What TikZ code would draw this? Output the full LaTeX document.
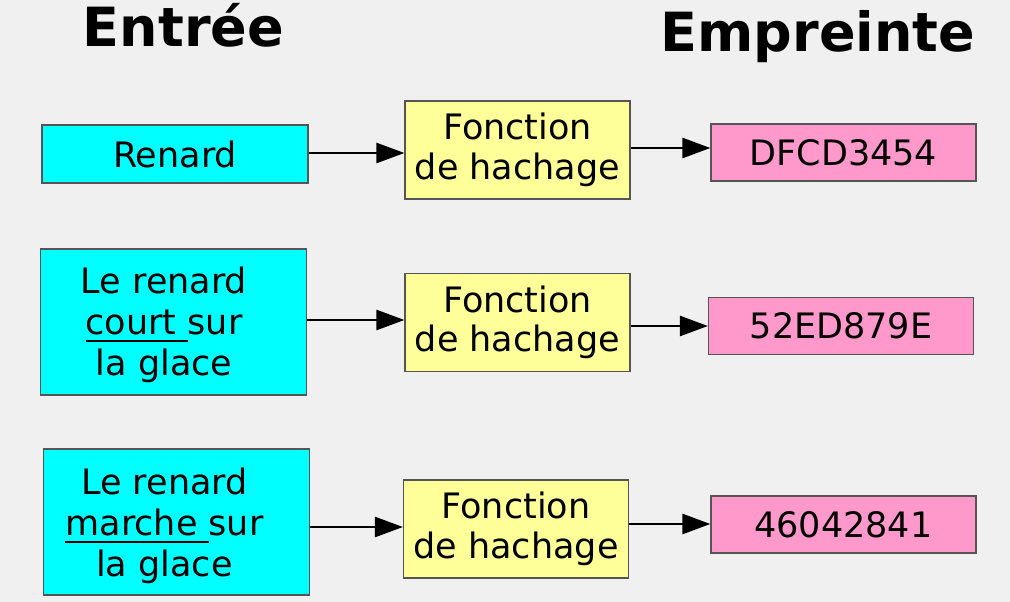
\documentclass[tikz,border=0pt]{standalone}
\usepackage{fontspec}
\setmainfont{DejaVu Sans}
\usetikzlibrary{arrows.meta}
\definecolor{bgc}{HTML}{F0F0F0}
\definecolor{cyanbox}{HTML}{00FFFF}
\definecolor{yellowbox}{HTML}{FFFF99}
\definecolor{pinkbox}{HTML}{FF99CC}
\definecolor{edgec}{HTML}{555555}
\newcommand\ulword[1]{\setbox0\hbox{#1}\rlap{\rule[-7pt]{\wd0}{1.8pt}}\box0}
\tikzset{
  box/.style={draw=edgec, line width=1.2pt, inner sep=0pt, font=\fontsize{35}{40}\selectfont, align=center},
  inbox/.style={box, fill=cyanbox, minimum width=266pt},
  hashbox/.style={box, fill=yellowbox, minimum width=225pt, minimum height=98pt, font=\fontsize{35}{39.5}\selectfont},
  outbox/.style={box, fill=pinkbox, minimum width=265pt, minimum height=57pt},
  txt/.style={inner sep=0pt, font=\fontsize{35}{41}\selectfont, align=center},
  title/.style={inner sep=0pt, anchor=base, font=\fontsize{54}{60}\selectfont\bfseries},
  arr/.style={line width=2.6pt, -{Triangle[length=28pt,width=20pt]}}
}
\begin{document}
\begin{tikzpicture}[x=1pt,y=-1pt]
\fill[bgc] (0,0) rectangle (1010,602);
\useasboundingbox (0,0) rectangle (1010,602);
\node[title] (tin) at (183.5,47) {Entrée};
\node[title] (tout) at (818,51.5) {Empreinte};
% row 1
\node[inbox, minimum height=58pt] (c1) at (175,154) {Renard};
\node[hashbox] (y1) at (517.5,150) {Fonction\\de hachage};
\node[outbox] (p1) at (843.5,152.5) {DFCD3454};
% row 2
\node[inbox, minimum height=146pt] (c2) at (173.5,322) {};
\node[txt] (t2) at (164,325) {Le renard\\\ulword{court }sur\\la glace};
\node[hashbox] (y2) at (517.5,322.5) {Fonction\\de hachage};
\node[outbox] (p2) at (841,326) {52ED879E};
% row 3
\node[inbox, minimum height=146pt] (c3) at (176.5,522) {};
\node[txt] (t3) at (164.5,526) {Le renard\\\ulword{marche }sur\\la glace};
\node[hashbox] (y3) at (516,529) {Fonction\\de hachage};
\node[outbox] (p3) at (843.5,524.5) {46042841};
% arrows
\draw[arr] (c1.east |- 0,153) -- (y1.west |- 0,153);
\draw[arr] (y1.east |- 0,148) -- (p1.west |- 0,148);
\draw[arr] (c2.east |- 0,320) -- (y2.west |- 0,320);
\draw[arr] (y2.east |- 0,326) -- (p2.west |- 0,326);
\draw[arr] (c3.east |- 0,527) -- (y3.west |- 0,527);
\draw[arr] (y3.east |- 0,524) -- (p3.west |- 0,524);
\end{tikzpicture}
\end{document}
